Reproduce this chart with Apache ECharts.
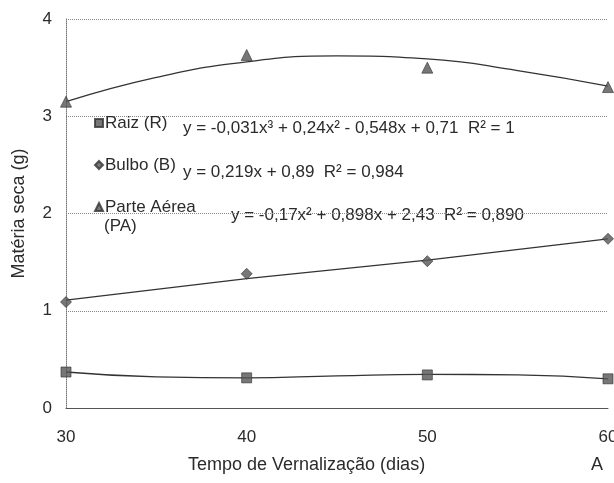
<!DOCTYPE html>
<html>
<head>
<meta charset="utf-8">
<script src="https://cdn.jsdelivr.net/npm/echarts@6/dist/echarts.min.js"></script>
<style>
  html, body { margin: 0; padding: 0; background: #fff; }
  #chart { width: 614px; height: 483px; }
</style>
</head>
<body>
<div id="chart"></div>
<script>
// Dados
const dias = [30, 40, 50, 60];
const raiz = [0.37, 0.31, 0.34, 0.30];
const bulbo = [1.09, 1.38, 1.51, 1.74];
const parteAerea = [3.15, 3.63, 3.50, 3.30];

// Linhas de tendência
const diasTendencia = [30, 35, 40, 45, 50, 55, 60];
const raizTendencia = [0.37, 0.32, 0.31, 0.33, 0.345, 0.34, 0.30];
const bulboTendencia = [1.11, 1.33, 1.52, 1.74];
const parteAereaTendencia = [3.15, 3.40, 3.56, 3.62, 3.59, 3.47, 3.31];

const equacoes = [
    "y = -0,031x³ + 0,24x² - 0,548x + 0,71  R² = 1",
    "y = 0,219x + 0,89  R² = 0,984",
    "y = -0,17x² + 0,898x + 2,43  R² = 0,890"
];
const yTicks = [0, 1, 2, 3, 4];

const pares = (xs, ys) => xs.map((x, i) => [x, ys[i]]);
const FONT = "Liberation Sans, Arial, sans-serif";
const TEXT = "#2b2b2b";

const chart = echarts.init(document.getElementById("chart"));

const pontos = (name, data, symbol, size) => ({
    name, type: "scatter", data, symbol, symbolSize: size, z: 5,
    itemStyle: { color: "#555", borderColor: "#333", borderWidth: 0.8 }
});
const tendencia = (data, smooth) => ({
    type: "line", data, smooth, showSymbol: false, silent: true,
    lineStyle: { color: "#333", width: 1.3 }
});

chart.setOption({
    backgroundColor: "#fff",
    animation: false,
    textStyle: { fontFamily: FONT },
    grid: { left: 66, right: 6, top: 19, bottom: 75, outerBoundsMode: "none", containLabel: false },
    xAxis: {
        type: "value", min: 30, max: 60, interval: 10,
        axisLine: { lineStyle: { color: "#555", width: 1 } },
        axisTick: { show: false },
        axisLabel: { color: TEXT, fontSize: 17, margin: 21 },
        splitLine: { show: false }
    },
    yAxis: {
        type: "value", min: yTicks[0], max: yTicks[yTicks.length - 1], interval: 1,
        name: "Matéria seca (g)", nameLocation: "middle", nameGap: 38,
        nameTextStyle: { color: TEXT, fontSize: 18 },
        axisLine: { show: true, lineStyle: { color: "#777", type: "dotted" } },
        axisTick: { show: false },
        axisLabel: { color: TEXT, fontSize: 17, margin: 14 },
        splitLine: { lineStyle: { color: "#888", type: "dotted" } }
    },
    legend: {
        orient: "vertical", left: 89, top: 109, itemGap: 24,
        itemWidth: 8, itemHeight: 8,
        data: ["Raiz (R)", "Bulbo (B)", "Parte Aérea (PA)"],
        formatter: name => name.replace(" (PA)", ""),
        textStyle: { color: TEXT, fontSize: 17, lineHeight: 18, padding: [0, 0, 0, -3] }
    },
    series: [
        tendencia(pares(diasTendencia, raizTendencia), true),
        tendencia(pares(dias, bulboTendencia), false),
        tendencia(pares(diasTendencia, parteAereaTendencia), true),
        pontos("Raiz (R)", pares(dias, raiz), "rect", 10),
        pontos("Bulbo (B)", pares(dias, bulbo), "diamond", 11),
        pontos("Parte Aérea (PA)", pares(dias, parteAerea), "triangle", 11)
    ],
    graphic: [
        { type: "text", left: 104, top: 218, style: { text: "(PA)", fill: TEXT, font: `17px ${FONT}` } },
        { type: "text", left: 183, top: 120, style: { text: equacoes[0], fill: TEXT, font: `17px ${FONT}` } },
        { type: "text", left: 183, top: 164, style: { text: equacoes[1], fill: TEXT, font: `17px ${FONT}` } },
        { type: "text", left: 231, top: 207, style: { text: equacoes[2], fill: TEXT, font: `17px ${FONT}` } },
        { type: "text", left: 188, top: 456, style: { text: "Tempo de Vernalização (dias)", fill: TEXT, font: `18px ${FONT}` } },
        { type: "text", left: 591, top: 456, style: { text: "A", fill: TEXT, font: `18px ${FONT}` } }
    ]
});
</script>
</body>
</html>
